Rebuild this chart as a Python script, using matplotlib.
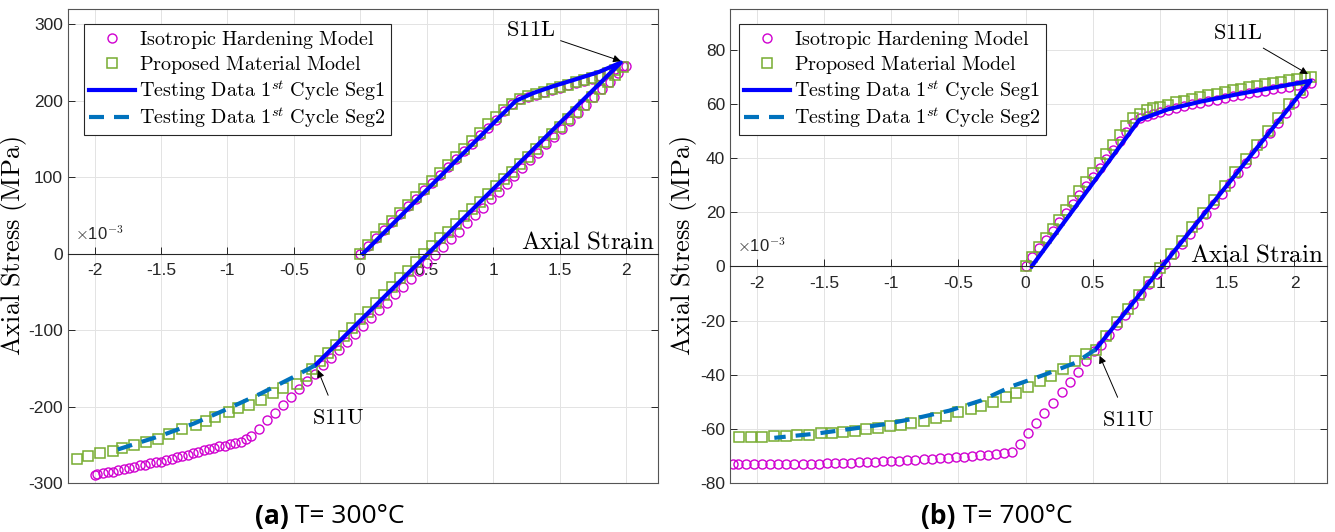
import numpy as np
import matplotlib.pyplot as plt
from matplotlib.lines import Line2D

plt.rcParams['mathtext.fontset'] = 'cm'
plt.rcParams['axes.unicode_minus'] = False
plt.rcParams['font.family'] = ['Liberation Sans', 'DejaVu Sans']

#################################################################
# DATA  (strain in units of 1e-3, stress in MPa)
#################################################################

# ---- (a) T = 300 C ----
iso300_strain = [0.00, 0.06, 0.12, 0.18, 0.24, 0.30, 0.36, 0.42, 0.48, 0.54, 0.60, 0.66, 0.72, 0.78,
                 0.84, 0.90, 0.96, 1.02, 1.08, 1.14, 1.20, 1.26, 1.32, 1.38, 1.44, 1.50, 1.56, 1.62,
                 1.68, 1.74, 1.80, 1.86, 1.92, 1.98, 2.00,
                 1.94, 1.88, 1.82, 1.76, 1.70, 1.64, 1.58, 1.52, 1.46, 1.40, 1.34, 1.28, 1.22, 1.16,
                 1.10, 1.04, 0.98, 0.92, 0.86, 0.80, 0.74, 0.68, 0.62, 0.56, 0.50, 0.44, 0.38, 0.32,
                 0.26, 0.20, 0.14, 0.08, 0.02, -0.04, -0.10, -0.16, -0.22, -0.28, -0.34, -0.40, -0.46,
                 -0.52, -0.58, -0.64, -0.70, -0.76, -0.82, -0.86,
                 -0.90, -0.94, -0.98, -1.02, -1.06, -1.10, -1.14, -1.18, -1.22, -1.26, -1.30, -1.34,
                 -1.38, -1.42, -1.46, -1.50, -1.54, -1.58, -1.62, -1.66, -1.70, -1.74, -1.78, -1.82,
                 -1.86, -1.90, -1.94, -1.98, -2.00]
iso300_stress = [0, 10, 21, 31, 41, 52, 62, 72, 83, 93, 103, 114, 124, 134,
                 144, 155, 165, 175, 186, 196, 202, 205, 208, 211, 214, 217, 220, 223,
                 226, 229, 233, 237, 241, 245, 246,
                 236, 225, 215, 205, 194, 184, 174, 163, 153, 143, 132, 122, 112, 102,
                 91, 81, 71, 60, 50, 40, 29, 19, 9, -2, -12, -22, -33, -43,
                 -53, -64, -74, -84, -95, -105, -115, -126, -136, -146, -157, -167, -177,
                 -187, -198, -208, -218, -229, -239, -243,
                 -246, -248, -249, -251, -252, -254, -256, -257, -259, -261, -263, -264,
                 -266, -268, -270, -272, -273, -274, -276, -277, -279, -280, -282, -283,
                 -285, -286, -287, -288, -289]

prop300_strain = [0.00, 0.06, 0.12, 0.18, 0.24, 0.30, 0.36, 0.42, 0.48, 0.54, 0.60, 0.66, 0.72, 0.78,
                  0.84, 0.90, 0.96, 1.02, 1.08, 1.14, 1.20, 1.26, 1.32, 1.38, 1.44, 1.50, 1.56, 1.62,
                  1.68, 1.74, 1.80, 1.86, 1.92, 1.98,
                  1.92, 1.86, 1.80, 1.74, 1.68, 1.62, 1.56, 1.50, 1.44, 1.38, 1.32, 1.26, 1.20, 1.14,
                  1.08, 1.02, 0.96, 0.90, 0.84, 0.78, 0.72, 0.66, 0.60, 0.54, 0.48, 0.42, 0.36, 0.30,
                  0.24, 0.18, 0.12, 0.06, 0.00, -0.06, -0.12, -0.18, -0.24, -0.30, -0.36, -0.41,
                  -0.48, -0.58, -0.66, -0.75, -0.84, -0.92, -0.99, -1.09, -1.16, -1.24, -1.34, -1.44,
                  -1.52, -1.61, -1.70, -1.79, -1.86, -1.96, -2.05, -2.13]
prop300_stress = [0, 11, 22, 32, 43, 53, 64, 74, 85, 95, 106, 116, 127, 137,
                  148, 158, 169, 179, 188, 196, 202, 206, 209, 212, 215, 218, 221, 224,
                  227, 230, 233, 236, 240, 244,
                  234, 224, 215, 205, 195, 185, 176, 166, 156, 146, 137, 127, 117, 107,
                  98, 88, 78, 68, 59, 49, 39, 29, 20, 10, 0, -11, -22, -32,
                  -43, -54, -65, -76, -86, -97, -108, -119, -130, -140, -151, -160,
                  -170, -176, -182, -191, -198, -202, -207, -213, -219, -224, -229, -236,
                  -242, -246, -250, -254, -258, -261, -264, -268]

seg1_300_strain = [0.02, 1.17, 1.30, 1.45, 1.60, 1.80, 1.96, -0.34]
seg1_300_stress = [0, 200, 210, 219, 227, 238, 250, -146]
seg2_300_strain = [-0.34, -0.50, -0.75, -1.00, -1.25, -1.50, -1.86]
seg2_300_stress = [-146, -161, -183, -203, -222, -238, -258]

# ---- (b) T = 700 C ----
iso700_strain = [0.00, 0.05, 0.10, 0.15, 0.20, 0.25, 0.30, 0.35, 0.40, 0.45, 0.50, 0.55, 0.60, 0.65,
                 0.70, 0.75, 0.80, 0.85, 0.90, 0.95, 1.00, 1.06, 1.12, 1.18, 1.24, 1.30, 1.36, 1.42,
                 1.48, 1.54, 1.60, 1.66, 1.72, 1.78, 1.84, 1.90, 1.96, 2.02, 2.08, 2.12,
                 2.06, 2.00, 1.94, 1.88, 1.82, 1.76, 1.70, 1.64, 1.58, 1.52, 1.46, 1.40, 1.34, 1.28,
                 1.22, 1.16, 1.10, 1.04, 0.98, 0.92, 0.86, 0.80, 0.74, 0.68, 0.62, 0.56, 0.51, 0.45,
                 0.39, 0.33, 0.27, 0.20, 0.14, 0.08, 0.02, -0.04, -0.10,
                 -0.16, -0.22, -0.28, -0.34, -0.40, -0.46, -0.52, -0.58, -0.64, -0.70, -0.76, -0.82,
                 -0.88, -0.94, -1.00, -1.06, -1.12, -1.18, -1.24, -1.30, -1.36, -1.42, -1.48, -1.54,
                 -1.60, -1.66, -1.72, -1.78, -1.84, -1.90, -1.96, -2.02, -2.08, -2.14, -2.18]
iso700_stress = [0.0, 3.3, 6.6, 9.9, 13.2, 16.5, 19.8, 23.1, 26.4, 29.7, 33.0, 36.3, 39.6, 42.9,
                 46.2, 49.5, 52.8, 54.6, 55.6, 56.4, 57.1, 57.8, 58.5, 59.2, 59.8, 60.4, 61.0, 61.6,
                 62.2, 62.8, 63.3, 63.9, 64.4, 64.9, 65.4, 65.9, 66.4, 66.9, 67.4, 67.8,
                 64.1, 60.4, 56.6, 52.9, 49.2, 45.5, 41.8, 38.0, 34.3, 30.6, 26.9, 23.2, 19.4, 15.7,
                 12.0, 8.3, 4.6, 0.8, -2.9, -6.6, -10.3, -14.0, -17.8, -21.5, -25.2, -28.9, -31.3, -35.1,
                 -39.0, -42.8, -46.5, -50.4, -54.1, -57.8, -61.5, -65.4, -68.5,
                 -68.9, -69.2, -69.5, -69.8, -70.0, -70.3, -70.5, -70.7, -70.9, -71.1, -71.3, -71.5,
                 -71.6, -71.8, -71.9, -72.0, -72.2, -72.3, -72.4, -72.5, -72.6, -72.7, -72.7, -72.8,
                 -72.9, -72.9, -73.0, -73.0, -73.0, -73.1, -73.1, -73.1, -73.1, -73.1, -73.1]

prop700_strain = [0.00, 0.05, 0.10, 0.15, 0.20, 0.25, 0.30, 0.35, 0.40, 0.45, 0.50, 0.55, 0.60, 0.65,
                  0.70, 0.75, 0.80, 0.85, 0.90, 0.95, 1.00, 1.06, 1.12, 1.18, 1.24, 1.30, 1.36, 1.42,
                  1.48, 1.54, 1.60, 1.66, 1.72, 1.78, 1.84, 1.90, 1.96, 2.02, 2.08, 2.12,
                  2.04, 1.96, 1.88, 1.80, 1.72, 1.64, 1.56, 1.48, 1.40, 1.32, 1.24, 1.16, 1.08, 1.00,
                  0.92, 0.84, 0.76, 0.68, 0.60, 0.52,
                  0.45, 0.37, 0.28, 0.19, 0.105, 0.02, -0.07, -0.15, -0.24, -0.33, -0.41, -0.50,
                  -0.59, -0.67, -0.76, -0.85, -0.93, -1.01, -1.10, -1.19, -1.27, -1.36, -1.44, -1.52,
                  -1.61, -1.70, -1.78, -1.87, -1.96, -2.045, -2.13]
prop700_stress = [0.0, 3.5, 7.0, 10.4, 13.9, 17.3, 20.8, 24.2, 27.7, 31.1, 34.6, 38.0, 41.5, 44.9,
                  48.4, 51.8, 54.8, 56.3, 57.8, 58.5, 59.0, 59.7, 60.5, 61.2, 61.9, 62.6, 63.2, 63.8,
                  64.4, 65.0, 65.6, 66.1, 66.7, 67.2, 67.7, 68.2, 68.7, 69.2, 69.6, 70.0,
                  65.0, 60.0, 54.9, 49.9, 44.8, 39.8, 34.7, 29.7, 24.6, 19.6, 14.6, 9.5, 4.5, -0.6,
                  -5.6, -10.6, -15.7, -20.7, -25.8, -30.8,
                  -32.2, -34.8, -37.8, -40.5, -42.3, -44.4, -46.6, -48.2, -49.9, -51.5, -52.7, -53.9,
                  -55.1, -56.1, -57.0, -57.8, -58.5, -59.0, -59.8, -60.2, -60.6, -61.2, -61.5, -61.7,
                  -62.1, -62.1, -62.5, -62.7, -62.9, -62.9, -62.9]

seg1_700_strain = [0.045, 0.846, 1.06, 1.30, 1.55, 1.80, 2.12, 0.52]
seg1_700_stress = [0, 54.1, 58.0, 60.8, 63.3, 65.6, 68.5, -30.7]
seg2_700_strain = [0.52, 0.37, 0.14, -0.10, -0.33, -0.57, -0.81, -1.05, -1.30, -1.55, -1.87]
seg2_700_stress = [-30.7, -35.6, -40.0, -44.2, -49.5, -53.3, -56.0, -58.3, -60.0, -61.7, -63.3]

xtick_vals = [-2, -1.5, -1, -0.5, 0, 0.5, 1, 1.5, 2]
xtick_labels = ['-2', '-1.5', '-1', '-0.5', '0', '0.5', '1', '1.5', '2']
yticks_300 = [-300, -200, -100, 0, 100, 200, 300]
yticks_700 = [-80, -60, -40, -20, 0, 20, 40, 60, 80]

legend_labels = [r'$\mathrm{Isotropic\ Hardening\ Model}$',
                 r'$\mathrm{Proposed\ Material\ Model}$',
                 r'$\mathrm{Testing\ Data\ 1}^{st}\mathrm{\ Cycle\ Seg1}$',
                 r'$\mathrm{Testing\ Data\ 1}^{st}\mathrm{\ Cycle\ Seg2}$']

#################################################################
# PLOTTING
#################################################################
AX_COLOR = '#262626'


def draw_panel(ax, iso, prop, seg1, seg2, ylim, yticks, label_x, leg_x,
               s11l_txt, s11l_tip, s11u_txt, s11u_tip):
    ax.plot(iso[0], iso[1], 'o', ms=6.5, mfc='none', mec='#D000D0', mew=1.0,
            label=legend_labels[0])
    ax.plot(prop[0], prop[1], 's', ms=7.5, mfc='none', mec='#77AC30', mew=1.1,
            label=legend_labels[1])
    ax.plot(seg1[0], seg1[1], '-', color='#0000FF', lw=3.0, label=legend_labels[2])
    ax.plot(seg2[0], seg2[1], '--', color='#0072BD', lw=3.0, dashes=(3.6, 2.4),
            label=legend_labels[3])

    ax.set_xlim(-2.2, 2.24)
    ax.set_ylim(*ylim)
    ax.set_xticks(xtick_vals)
    ax.set_xticklabels(xtick_labels)
    ax.set_yticks(yticks)
    ax.set_yticklabels([str(v) for v in yticks])

    # x axis through the origin, box drawn round the axes
    ax.spines['bottom'].set_position(('data', 0))
    for s in ax.spines.values():
        s.set_color('#555555')
        s.set_linewidth(0.8)
    ax.spines['bottom'].set_color(AX_COLOR)
    ax.add_line(Line2D([0, 1], [0, 0], transform=ax.transAxes, color='#555555',
                       lw=0.8, clip_on=False))

    ax.tick_params(axis='x', direction='in', length=5, width=0.7, pad=7,
                   labelsize=12.5, colors=AX_COLOR)
    ax.tick_params(axis='y', direction='in', length=5, width=0.7, right=True,
                   labelsize=12.5, colors=AX_COLOR)
    ax.grid(True, color='#e3e3e3', lw=0.7)
    ax.set_axisbelow(True)

    ax.text(label_x, 0.5, r'$\mathrm{Axial\ Stress\ (MPa)}$', transform=ax.transAxes,
            rotation=90, ha='center', va='center', fontsize=19)
    ax.text(0.995, 0.0, r'$\mathrm{Axial\ Strain}$',
            transform=ax.get_yaxis_transform(), ha='right', va='bottom', fontsize=18)
    ax.annotate(r'$\times$10$^{-3}$', xy=(0.012, 0.0), xycoords=ax.get_yaxis_transform(),
                xytext=(0, 8), textcoords='offset points',
                ha='left', va='bottom', fontsize=12, color=AX_COLOR)

    ax.annotate(r'$\mathrm{S11L}$', xy=s11l_tip, xytext=s11l_txt, fontsize=16,
                ha='center', va='center',
                arrowprops=dict(arrowstyle='-|>', color='black', lw=0.7,
                                mutation_scale=11, shrinkA=2, shrinkB=0))
    ax.annotate(r'$\mathrm{S11U}$', xy=s11u_tip, xytext=s11u_txt, fontsize=16,
                ha='center', va='center',
                arrowprops=dict(arrowstyle='-|>', color='black', lw=0.7,
                                mutation_scale=11, shrinkA=8, shrinkB=0))

    leg = ax.legend(loc='upper left', bbox_to_anchor=(leg_x, 0.968), fontsize=14.5,
                    frameon=True, fancybox=False, framealpha=1, edgecolor=AX_COLOR,
                    handlelength=2.3, handletextpad=0.2, borderpad=0.25,
                    labelspacing=0.12, borderaxespad=0)
    leg.get_frame().set_linewidth(0.8)


fig = plt.figure(figsize=(13.35, 5.32), dpi=100)
ax1 = fig.add_axes([0.0509, 0.092, 0.442, 0.891])
ax2 = fig.add_axes([0.5468, 0.092, 0.447, 0.891])

draw_panel(ax1, (iso300_strain, iso300_stress), (prop300_strain, prop300_stress),
           (seg1_300_strain, seg1_300_stress), (seg2_300_strain, seg2_300_stress),
           (-300, 320), yticks_300, -0.092, 0.027,
           s11l_txt=(1.28, 292), s11l_tip=(1.96, 252),
           s11u_txt=(-0.17, -216), s11u_tip=(-0.32, -152))
draw_panel(ax2, (iso700_strain, iso700_stress), (prop700_strain, prop700_stress),
           (seg1_700_strain, seg1_700_stress), (seg2_700_strain, seg2_700_stress),
           (-80, 95), yticks_700, -0.078, 0.015,
           s11l_txt=(1.58, 86), s11l_tip=(2.1, 71),
           s11u_txt=(0.76, -57), s11u_tip=(0.55, -33))

for x, tag, temp in [(0.216, '(a)', ' T= 300°C'), (0.716, '(b)', ' T= 700°C')]:
    fig.text(x, 0.03, tag, ha='right', va='center', fontsize=19, weight='bold',
             family='Open Sans')
    fig.text(x, 0.03, temp, ha='left', va='center', fontsize=19, family='Open Sans')

fig.savefig('out.png', dpi=100)
plt.close(fig)
